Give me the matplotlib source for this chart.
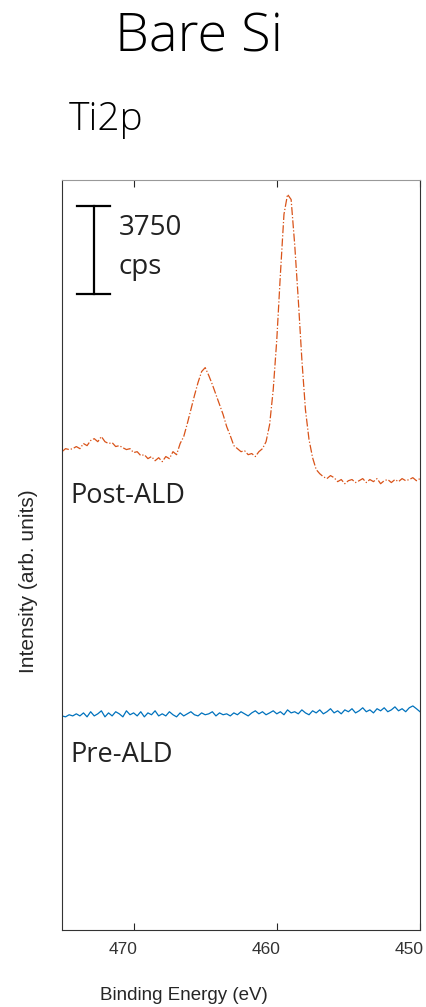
import numpy as np
import matplotlib
matplotlib.use("Agg")
import matplotlib.pyplot as plt
from matplotlib.transforms import ScaledTranslation

# binding energy grid (eV), 475 -> 450 in 0.25 eV steps
energy = np.arange(475.0, 449.99, -0.25)

# Ti2p intensity after ALD (cps, offset for stacking)
post_ald = [20600, 20730, 20690, 20730, 20820, 20730, 20950, 20860, 21080, 21160,
            21030, 21250, 21030, 20950, 20990, 20820, 20860, 20770, 20690, 20730,
            20560, 20600, 20430, 20470, 20300, 20390, 20210, 20340, 20170, 20390,
            20300, 20600, 20470, 20950, 21250, 21810, 22410, 23020, 23580, 24050,
            24220, 23880, 23490, 23060, 22630, 22200, 21680, 21290, 20860, 20730,
            20600, 20640, 20470, 20520, 20390, 20600, 20730, 21030, 21770, 23270,
            25430, 28230, 30820, 31680, 31460, 29520, 27150, 24570, 22410, 21120,
            20340, 19830, 19650, 19520, 19440, 19570, 19480, 19310, 19400, 19220,
            19350, 19400, 19270, 19350, 19440, 19270, 19400, 19310, 19440, 19220,
            19350, 19400, 19270, 19400, 19310, 19440, 19350, 19400, 19480, 19350,
            19440]

# Ti2p intensity before ALD (cps, offset for stacking)
pre_ald = [9220, 9180, 9270, 9220, 9310, 9220, 9350, 9180, 9400, 9220,
           9310, 9440, 9180, 9350, 9220, 9400, 9310, 9180, 9440, 9270,
           9350, 9220, 9400, 9180, 9350, 9270, 9440, 9220, 9310,
           9220, 9400, 9270, 9180, 9350, 9220, 9310, 9400, 9270, 9220,
           9350, 9270, 9310, 9400, 9220, 9350, 9270, 9310, 9220, 9350,
           9270, 9400, 9310, 9220, 9350, 9440, 9310, 9400, 9270, 9350,
           9440, 9310, 9400, 9270, 9480, 9350, 9400, 9310, 9480, 9350,
           9270, 9440, 9350, 9480, 9310, 9400, 9530, 9350, 9440, 9310,
           9480, 9400, 9530, 9350, 9440, 9570, 9400, 9480, 9350, 9530,
           9440, 9570, 9400, 9480, 9610, 9440, 9530, 9400, 9570, 9650,
           9530, 9400]

scale_cps = 3750
xticks = [470, 460, 450]

W, H = 426, 1007
fig = plt.figure(figsize=(W / 100, H / 100), dpi=100)
ax = fig.add_axes([62 / W, 1 - 930 / H, 358 / W, 750 / H])

ax.plot(energy, pre_ald, color="#0072BD", lw=0.9)
ax.plot(energy, post_ald, color="#D95319", lw=0.9, ls="-.")

ax.set_xlim(475, 450)
ax.set_ylim(0, 32300)
ax.set_xticks(xticks)
ax.set_yticks([])
ax.tick_params(axis="x", direction="in", length=5, top=True, labelsize=12.5,
               pad=9, colors="#262626", labelcolor="#333333")
for s in ["left", "bottom", "right"]:
    ax.spines[s].set_color("#333333")
ax.spines["top"].set_color("#999999")
# tick labels sit a little left of their ticks in the original
shift = ScaledTranslation(-11 / 100, 0, fig.dpi_scale_trans)
for lab in ax.get_xticklabels():
    lab.set_fontfamily("Liberation Sans")
    lab.set_transform(lab.get_transform() + shift)

# scale bar
bar_x = 472.8
bar_y0 = 27410
ax.plot([bar_x, bar_x], [bar_y0, bar_y0 + scale_cps], color="black", lw=1.6)
for yy in [bar_y0, bar_y0 + scale_cps]:
    ax.plot([bar_x - 1.15, bar_x + 1.15], [yy, yy], color="black", lw=1.6)

def ftext(x, y, s, size, **kw):
    fig.text(x / W, 1 - y / H, s, fontsize=size, va="baseline", **kw)

ftext(199, 52, "Bare Si", 39, family="Open Sans", weight="light",
      ha="center", color="black")
ftext(69, 130, "Ti2p", 28, family="Open Sans", weight="light", color="black")
ftext(119, 235, str(scale_cps), 20, family="Open Sans", color="#222222")
ftext(119, 274, "cps", 20, family="Open Sans", color="#222222")
ftext(70, 503, "Post-ALD", 19.5, family="Open Sans", color="#222222")
ftext(70, 762, "Pre-ALD", 19.5, family="Open Sans", color="#222222")

fig.text(184 / W, 1 - 995 / H, "Binding Energy (eV)", fontsize=13.5,
         family="Liberation Sans", ha="center", va="center", color="#262626")
fig.text(28 / W, 1 - 581 / H, "Intensity (arb. units)", fontsize=15,
         family="Liberation Sans", ha="center", va="center", rotation=90,
         color="#262626")

fig.savefig("out.png", dpi=100)
